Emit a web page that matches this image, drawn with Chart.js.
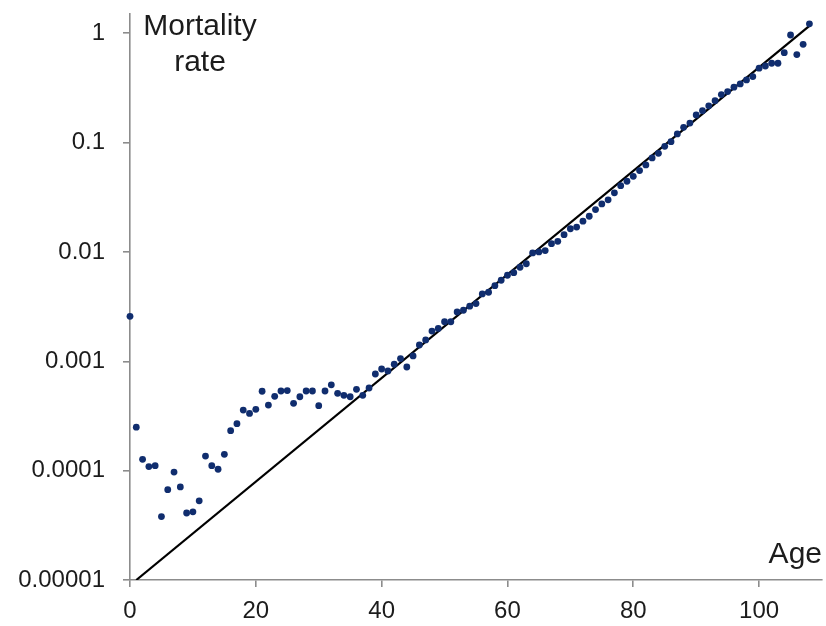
<!DOCTYPE html>
<html lang="en">
<head>
  <meta charset="UTF-8">
  <title>Mortality rate by age</title>
  <script src="https://cdn.jsdelivr.net/npm/chart.js"></script>
  <style>
    body {
      margin: 0;
      background: #fff;
    }
    #wrap {
      width: 826px;
      height: 626px;
    }
  </style>
</head>
<body>
  <div id="wrap">
    <canvas id="mortalityChart" width="826" height="626"></canvas>
  </div>
  <script>
    // observed yearly mortality rates, ages 0..108
    const ages = [
      0, 1, 2, 3, 4, 5, 6, 7, 8, 9,
      10, 11, 12, 13, 14, 15, 16, 17, 18, 19,
      20, 21, 22, 23, 24, 25, 26, 27, 28, 29,
      30, 31, 32, 33, 34, 35, 36, 37, 38, 39,
      40, 41, 42, 43, 44, 45, 46, 47, 48, 49,
      50, 51, 52, 53, 54, 55, 56, 57, 58, 59,
      60, 61, 62, 63, 64, 65, 66, 67, 68, 69,
      70, 71, 72, 73, 74, 75, 76, 77, 78, 79,
      80, 81, 82, 83, 84, 85, 86, 87, 88, 89,
      90, 91, 92, 93, 94, 95, 96, 97, 98, 99,
      100, 101, 102, 103, 104, 105, 106, 107, 108
    ];
    const rates = [
      2.58e-3, 2.5e-4, 1.27e-4, 1.09e-4, 1.11e-4, 3.8e-5, 6.7e-5, 9.7e-5, 7.1e-5, 4.1e-5,
      4.2e-5, 5.3e-5, 1.36e-4, 1.11e-4, 1.03e-4, 1.41e-4, 2.32e-4, 2.69e-4, 3.58e-4, 3.34e-4,
      3.64e-4, 5.32e-4, 3.98e-4, 4.78e-4, 5.35e-4, 5.4e-4, 4.13e-4, 4.74e-4, 5.35e-4, 5.35e-4,
      3.93e-4, 5.35e-4, 6.1e-4, 5.1e-4, 4.89e-4, 4.74e-4, 5.54e-4, 4.89e-4, 5.7e-4, 7.65e-4,
      8.5e-4, 8.15e-4, 9.4e-4, 1.06e-3, 8.87e-4, 1.12e-3, 1.41e-3, 1.57e-3, 1.89e-3, 2.0e-3,
      2.3e-3, 2.3e-3, 2.83e-3, 2.93e-3, 3.19e-3, 3.37e-3, 4.13e-3, 4.28e-3, 4.92e-3, 5.51e-3,
      6.12e-3, 6.47e-3, 7.25e-3, 7.8e-3, 9.8e-3, 1.0e-2, 1.03e-2, 1.19e-2, 1.25e-2, 1.44e-2,
      1.63e-2, 1.69e-2, 1.91e-2, 2.12e-2, 2.44e-2, 2.75e-2, 3.0e-2, 3.47e-2, 4.04e-2, 4.43e-2,
      4.92e-2, 5.55e-2, 6.25e-2, 7.24e-2, 7.98e-2, 9.25e-2, 0.102, 0.12, 0.138, 0.151,
      0.179, 0.196, 0.217, 0.242, 0.275, 0.293, 0.321, 0.344, 0.374, 0.402,
      0.479, 0.502, 0.532, 0.532, 0.665, 0.964, 0.638, 0.792, 1.22
    ];

    // straight exponential (Gompertz) fit, end points
    const fitAges = [1, 108];
    const fitRates = [1e-5, 1.17];

    const xTicks = [0, 20, 40, 60, 80, 100];
    const yTicks = [1e-5, 1e-4, 1e-3, 1e-2, 1e-1, 1];
    const yTickLabels = ['0.00001', '0.0001', '0.001', '0.01', '0.1', '1'];

    const axisGray = '#8c8c8c';
    const textColor = '#1c1c1c';
    const font = "'Liberation Sans', Arial, sans-serif";

    const axisTitles = {
      id: 'axisTitles',
      afterDraw(chart) {
        const { ctx, chartArea } = chart;
        ctx.save();
        ctx.fillStyle = textColor;
        ctx.font = '30px ' + font;
        ctx.textBaseline = 'alphabetic';
        ctx.textAlign = 'center';
        ctx.fillText('Mortality', chartArea.left + 70, 35);
        ctx.fillText('rate', chartArea.left + 70, 71);
        ctx.textAlign = 'right';
        ctx.fillText('Age', chartArea.right, 563);
        ctx.restore();
      }
    };

    new Chart(document.getElementById('mortalityChart').getContext('2d'), {
      type: 'scatter',
      data: {
        datasets: [
          {
            label: 'fit',
            type: 'line',
            data: fitAges.map((a, i) => ({ x: a, y: fitRates[i] })),
            borderColor: '#000',
            borderWidth: 2.2,
            pointRadius: 0,
            fill: false,
            order: 2
          },
          {
            label: 'mortality',
            data: ages.map((a, i) => ({ x: a, y: rates[i] })),
            backgroundColor: '#102d6e',
            borderWidth: 0,
            pointRadius: 3.4,
            clip: 6,
            order: 1
          }
        ]
      },
      options: {
        responsive: false,
        animation: false,
        layout: { padding: { top: 14, right: 3, left: 0, bottom: 0 } },
        plugins: {
          legend: { display: false },
          tooltip: { enabled: false }
        },
        scales: {
          x: {
            type: 'linear',
            min: 0,
            max: 110,
            afterFit: s => {
              s.height = 46;
              s.paddingLeft = 0;
              s.paddingRight = 0;
            },
            afterBuildTicks: s => { s.ticks = xTicks.map(v => ({ value: v })); },
            border: { color: axisGray, width: 1.6 },
            grid: { drawOnChartArea: false, tickLength: 7, color: axisGray, lineWidth: 1.6 },
            ticks: {
              padding: 10,
              maxRotation: 0,
              autoSkip: false,
              color: textColor,
              font: { size: 24, family: font }
            }
          },
          y: {
            type: 'logarithmic',
            min: 1e-5,
            max: 1.5,
            afterFit: s => {
              s.width = 130;
              s.paddingTop = 0;
              s.paddingBottom = 0;
            },
            afterBuildTicks: s => { s.ticks = yTicks.map(v => ({ value: v })); },
            border: { color: axisGray, width: 1.6 },
            grid: { drawOnChartArea: false, tickLength: 7, color: axisGray, lineWidth: 1.6 },
            ticks: {
              padding: 18,
              autoSkip: false,
              color: textColor,
              font: { size: 24, family: font },
              callback: v => {
                const i = yTicks.findIndex(t => Math.abs(Math.log10(t) - Math.log10(v)) < 1e-6);
                return i >= 0 ? yTickLabels[i] : '';
              }
            }
          }
        }
      },
      plugins: [axisTitles]
    });
  </script>
</body>
</html>
